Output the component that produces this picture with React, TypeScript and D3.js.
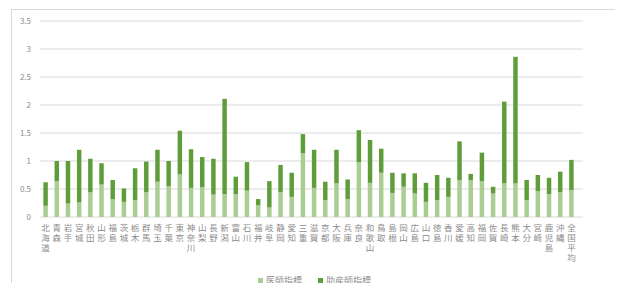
import React from 'react';
import * as d3 from 'd3';

const prefectures = [
  '北海道', '青森', '岩手', '宮城', '秋田', '山形', '福島', '茨城', '栃木', '群馬',
  '埼玉', '千葉', '東京', '神奈川', '山梨', '長野', '新潟', '富山', '石川', '福井',
  '岐阜', '静岡', '愛知', '三重', '滋賀', '京都', '大阪', '兵庫', '奈良', '和歌山',
  '鳥取', '島根', '岡山', '広島', '山口', '徳島', '香川', '愛媛', '高知', '福岡',
  '佐賀', '長崎', '熊本', '大分', '宮崎', '鹿児島', '沖縄', '全国平均',
];

// 医師指標
const doctorIndex = [
  0.2, 0.64, 0.24, 0.26, 0.44, 0.58, 0.32, 0.27, 0.3, 0.44,
  0.63, 0.55, 0.76, 0.52, 0.53, 0.4, 0.41, 0.41, 0.47, 0.21,
  0.17, 0.44, 0.36, 1.14, 0.52, 0.3, 0.6, 0.32, 0.98, 0.61,
  0.79, 0.43, 0.54, 0.42, 0.27, 0.3, 0.36, 0.66, 0.655, 0.64,
  0.42, 0.6, 0.6, 0.3, 0.46, 0.41, 0.44, 0.48,
];

// 助産師指標
const midwifeIndex = [
  0.42, 0.36, 0.76, 0.94, 0.6, 0.38, 0.34, 0.24, 0.57, 0.55,
  0.57, 0.45, 0.78, 0.69, 0.54, 0.64, 1.7, 0.31, 0.51, 0.11,
  0.47, 0.49, 0.43, 0.34, 0.68, 0.33, 0.6, 0.35, 0.57, 0.765,
  0.43, 0.36, 0.24, 0.36, 0.34, 0.45, 0.34, 0.69, 0.115, 0.51,
  0.12, 1.46, 2.26, 0.36, 0.29, 0.29, 0.37, 0.54,
];

const yTicks = [0, 0.5, 1, 1.5, 2, 2.5, 3, 3.5];

const series = [
  { name: '医師指標', color: '#a9cd92' },
  { name: '助産師指標', color: '#5f9d3b' },
];

const W = 623;
const H = 291;
const margin = { left: 40, right: 46, top: 21, bottom: 74 };

export default function App() {
  const x = d3.scaleBand<string>()
    .domain(prefectures)
    .range([margin.left, W - margin.right])
    .paddingInner(0.6)
    .paddingOuter(0.3);
  const y = d3.scaleLinear().domain([0, 3.5]).range([H - margin.bottom, margin.top]);

  const rows = prefectures.map((p, i) => ({ p, doctor: doctorIndex[i], midwife: midwifeIndex[i] }));
  const stacked = d3.stack<any>().keys(['doctor', 'midwife'])(rows);

  return (
    <div style={{ margin: '-8px' }}>
      <svg width={W} height={H} style={{ display: 'block', fontFamily: '"Noto Sans CJK JP", sans-serif' }}>
        <rect x={11.5} y={9.5} width={607} height={290} fill="#fff" stroke="#d9d9d9" />
        {yTicks.map(t => (
          <g key={t}>
            <line x1={margin.left} x2={W - margin.right + 6} y1={y(t)} y2={y(t)} stroke="#d9d9d9" strokeWidth={1} />
            <text x={31} y={y(t)} dy="0.35em" textAnchor="end" fontSize={8} fill="#8c8c8c">{t}</text>
          </g>
        ))}
        {stacked.map((s, si) => (
          <g key={si} fill={series[si].color}>
            {s.map((d, i) => (
              <rect key={i} x={x(prefectures[i])} width={x.bandwidth()} y={y(d[1])} height={y(d[0]) - y(d[1])} />
            ))}
          </g>
        ))}
        {prefectures.map(p => (
          <g key={p}>
            {p.split('').map((c, ci) => (
              <text key={ci} x={(x(p) as number) + x.bandwidth() / 2} y={231 + ci * 10}
                fontSize={8.5} fill="#8c8c8c" textAnchor="middle">{c}</text>
            ))}
          </g>
        ))}
        {series.map((s, i) => (
          <g key={s.name} transform={`translate(${i === 0 ? 258 : 318},281)`}>
            <rect x={0} y={-3} width={5} height={5} fill={s.color} />
            <text x={8} y={0} dy="0.35em" fontSize={9} fill="#8c8c8c">{s.name}</text>
          </g>
        ))}
      </svg>
    </div>
  );
}
